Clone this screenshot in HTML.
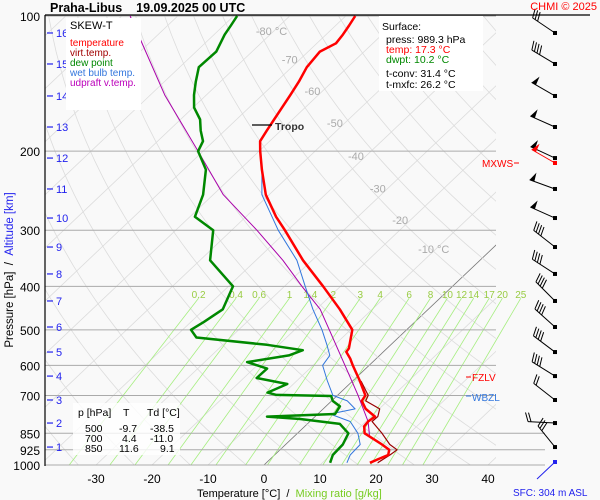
<!DOCTYPE html>
<html><head><meta charset="utf-8">
<style>
html,body{margin:0;padding:0;background:#f9f9f9;}
svg{display:block;font-family:"Liberation Sans",sans-serif;}
</style></head>
<body>
<svg id="chart" width="600" height="500" viewBox="0 0 600 500" xmlns="http://www.w3.org/2000/svg">
<defs><clipPath id="plotclip"><rect x="45" y="15" width="451" height="450"/></clipPath></defs>
<rect x="0" y="0" width="600" height="500" fill="#f9f9f9"/>
<g id="grid" clip-path="url(#plotclip)"></g>
<g id="mix"></g>
<g id="plevels"></g>
<g id="series" clip-path="url(#plotclip)"></g>
<g id="axes"></g>
<g id="barbs"></g>
<g id="texts">
 <text x="50" y="12" font-size="12.5" font-weight="bold">Praha-Libus&#160;&#160;&#160;&#160;19.09.2025 00 UTC</text>
 <text x="597" y="10" font-size="11" fill="#f00" text-anchor="end">CHMI © 2025</text>
 <rect x="66" y="18" width="75" height="92" fill="#fff"/>
 <text x="70" y="29" font-size="11">SKEW-T</text>
 <text x="70" y="46" font-size="10" fill="#f00">temperature</text>
 <text x="70" y="56" font-size="10" fill="#a00000">virt.temp.</text>
 <text x="70" y="66" font-size="10" fill="#080">dew point</text>
 <text x="70" y="76" font-size="10" fill="#37d">wet bulb temp.</text>
 <text x="70" y="86" font-size="10" fill="#b0b">udpraft v.temp.</text>
 <rect x="379" y="16" width="104" height="75" fill="#fff"/>
 <text x="382" y="30" font-size="10.5">Surface:</text>
 <text x="386" y="43" font-size="10.5">press: 989.3 hPa</text>
 <text x="386" y="53" font-size="10.5" fill="#f00">temp: 17.3 °C</text>
 <text x="386" y="63" font-size="10.5" fill="#080">dwpt: 10.2 °C</text>
 <text x="386" y="77" font-size="10.5">t-conv: 31.4 °C</text>
 <text x="386" y="88" font-size="10.5">t-mxfc: 26.2 °C</text>
 <rect x="73" y="403" width="107" height="52" fill="#fff" opacity="0.8"/>
 <g font-size="10.5">
  <text x="78" y="416">p [hPa]</text><text x="123" y="416">T</text><text x="147" y="416">Td [°C]</text>
  <text x="85" y="432">500</text><text x="119" y="432">-9.7</text><text x="150" y="432">-38.5</text>
  <text x="85" y="442">700</text><text x="122" y="442">4.4</text><text x="150" y="442">-11.0</text>
  <text x="85" y="452">850</text><text x="119" y="452">11.6</text><text x="160" y="452">9.1</text>
 </g>
 <line x1="252" y1="125" x2="272" y2="125" stroke="#000" stroke-width="1.2"/>
 <text x="275" y="130" font-size="10.5" font-weight="bold" fill="#333">Tropo</text>
 <text x="482" y="167" font-size="10" fill="#f00">MXWS</text>
 <line x1="514" y1="163" x2="519" y2="163" stroke="#f00"/>
 <line x1="466" y1="377" x2="471" y2="377" stroke="#f00"/>
 <text x="472" y="381" font-size="10" fill="#f00">FZLV</text>
 <line x1="466" y1="396" x2="471" y2="396" stroke="#37d"/>
 <text x="472" y="401" font-size="10" fill="#37d">WBZL</text>
 <text x="197" y="497" font-size="11">Temperature [°C]&#160;&#160;/&#160;&#160;<tspan fill="#7c2">Mixing ratio [g/kg]</tspan></text>
 <text x="513" y="496" font-size="10" fill="#22e">SFC: 304 m ASL</text>
 <text transform="translate(13,270) rotate(-90)" font-size="11.5" text-anchor="middle">Pressure [hPa]&#160;&#160;/&#160;&#160;<tspan fill="#22e">Altitude [km]</tspan></text>
</g>
</svg>
<script>
// ---- data ----
const tempP = [100,105,110,115,120,130,140,150,160,170,180,190,200,220,250,280,300,350,400,450,500,550,560,580,600,650,700,720,750,780,800,820,850,900,925,950,970,989];
const tempT = [-68.3,-67.6,-67.0,-66.6,-67.9,-67.3,-66.0,-65.0,-64.1,-63.3,-62.5,-61.7,-59.8,-56.0,-50.6,-44.6,-40.5,-31.6,-23.1,-15.8,-9.7,-6.8,-6.6,-4.6,-2.9,1.3,5.0,5.4,7.6,10.7,10.4,10.6,12.0,17.2,19.5,20.3,19.3,18.5];
const dewP = [100,105,110,120,130,140,150,160,170,180,190,200,220,250,280,300,350,400,450,480,500,520,540,555,570,590,610,640,660,690,698,702,720,740,770,780,790,810,850,900,950,989];
const dewT = [-89.4,-88.7,-88.1,-86.4,-86.6,-84.4,-82.2,-79.8,-76.5,-74.3,-71.9,-70.9,-66.0,-61.8,-59.1,-53.3,-48.2,-39.2,-36.7,-37.7,-38.5,-36.1,-22.1,-14.7,-16.2,-22.4,-17.6,-17.7,-11.1,-13.0,-11.0,-1.0,0.2,2.5,3.1,-8.6,-2.2,5.8,9.1,10.2,10.4,11.4];
const wetP = [220,250,300,350,400,450,500,540,570,600,650,700,720,750,770,800,850,900,950,989];
const wetT = [-56.0,-51.3,-41.7,-32.7,-26.3,-20.6,-15.1,-11.4,-8.9,-8.3,-4.5,-0.8,2.8,5.7,2.2,7.2,10.8,13.3,13.5,14.4];
const virtP = [650,700,720,750,780,800,850,900,925,950,970,989];
const virtT = [1.5,5.5,6.1,10.1,11.2,11.1,15.1,18.6,20.9,20.6,20.2,19.9];
const updP = [100,150,200,250,300,350,400,450,500,600,700,800,860];
const updT = [-108.5,-87.4,-70.9,-58.2,-45.5,-35.2,-26.9,-19.3,-13.8,-4.3,3.7,10.4,13.3];
const pLevels = [100,200,300,400,500,600,700,850,925,1000];
const xTicks = [-30,-20,-10,0,10,20,30,40];
const isoLabels = [-80,-70,-60,-50,-40,-30,-20,-10];
const mixRatios = [0.2,0.4,0.6,1,1.4,2,3,4,6,8,10,12,14,17,20,25];
const mixLabels = ["0.2","0.4","0.6","1","1.4","2","3","4","6","8","10","12","14","17","20","25"];
const altKm = [16,15,14,13,12,11,10,9,8,7,6,5,4,3,2,1];
const altP = [109.1,127.9,150.7,176.7,207.2,242.8,281.8,327,375.4,431.2,492.8,560.3,633.8,716.5,806.4,912.1];
const windDir = [304,301,300,294,295,290,294,308,303,315,312,307,302,308,273,321];
const windSpd = [30,40,50,50,50,50,50,40,40,40,40,40,40,20,20,30];
const mxwsDir = 300, mxwsSpd = 50;
// ---- axes ----
const NS='http://www.w3.org/2000/svg';
function yOf(p){return 16+449*Math.log10(p/100);}
function xOf(T,p){return 264+5.6*T+(465-yOf(p))*1.055;}
function mk(tag,attrs,parent){const e=document.createElementNS(NS,tag);for(const k in attrs)e.setAttribute(k,attrs[k]);parent.appendChild(e);return e;}
const grid=document.getElementById('grid'),mix=document.getElementById('mix'),plv=document.getElementById('plevels'),ser=document.getElementById('series'),axes=document.getElementById('axes'),barbs=document.getElementById('barbs');
for(let T=-160;T<=50;T+=10){
  const l=mk('line',{x1:xOf(T,1050),y1:yOf(1050),x2:xOf(T,100),y2:yOf(100),stroke:T===0?'#777':'#dcdcdc','stroke-width':0.8},grid);
  
  
}
for(let th=230;th<=520;th+=10){
  let d='';
  for(let p=1050;p>=100;p-=10){const T=th*Math.pow(p/1000,0.286)-273.15;d+=(d?'L':'M')+xOf(T,p).toFixed(1)+','+yOf(p).toFixed(1);}
  const a=mk('path',{d:d,fill:'none',stroke:'#dcdcdc','stroke-width':0.8},grid);
  
  
}
const isoLabelP=[108,125,147,173,205,242,285,330];
isoLabels.forEach((T,i)=>{
  const p=isoLabelP[i];
  const t=mk('text',{x:xOf(T,p)-18,y:yOf(p)+4,'font-size':11,fill:'#aaa'},axes);
  t.textContent=(T===-80||T===-10)?T+' °C':String(T);
  
  
});
function tdFromW(w,p){const e=w*p/(622+w);const L=Math.log(e/6.112);return 243.5*L/(17.67-L);}
mixRatios.forEach((w,i)=>{
  const x1=xOf(tdFromW(w,1000),1000),x2=xOf(tdFromW(w,425),425);
  const l=mk('line',{x1:x1,y1:yOf(1000),x2:x2,y2:yOf(425),stroke:'#a6ee80','stroke-width':0.8},mix);
  
  
  const t=mk('text',{x:x2,y:298,'font-size':10,fill:'#9c4','text-anchor':'middle'},mix);
  t.textContent=mixLabels[i];
  
  
});
pLevels.forEach(p=>{
  const y=yOf(p);
  const l=mk('line',{x1:45,y1:y,x2:p>=850?545:496,y2:y,stroke:'#aaa','stroke-width':1},plv);
  
  
  const t=mk('text',{x:40,y:y+5,'font-size':12,'text-anchor':'end'},axes);
  t.textContent=p;
  
  
});
mk('line',{x1:45,y1:15,x2:590,y2:15,stroke:'#000','stroke-width':1.2},axes);
mk('line',{x1:45,y1:15,x2:45,y2:466,stroke:'#000','stroke-width':1.2},axes);
altKm.forEach((k,i)=>{
  const y=yOf(altP[i]);
  const l=mk('line',{x1:47,y1:y,x2:53,y2:y,stroke:'#22e','stroke-width':1.2},axes);
  
  
  const t=mk('text',{x:56,y:y+4,'font-size':11,fill:'#22e'},axes);
  t.textContent=k;
  
  
});
xTicks.forEach(T=>{
  const t=mk('text',{x:264+5.6*T,y:483,'font-size':12,'text-anchor':'middle'},axes);
  t.textContent=T;
  
  
});
function series(P,T,color,w,name){
  let d='';P.forEach((p,i)=>{d+=(i?'L':'M')+xOf(T[i],p).toFixed(1)+','+yOf(p).toFixed(1);});
  const e=mk('path',{d:d,fill:'none',stroke:color,'stroke-width':w,'stroke-linejoin':'round'},ser);
  
  
}
series(updP,updT,'#a0a',1,'updraft-line');
series(wetP,wetT,'#37d',1,'wet-bulb-line');
series(virtP,virtT,'#900',1.2,'virtual-temperature-line');
series(dewP,dewT,'#080',2.5,'dew-point-line');
series(tempP,tempT,'#f00',2.5,'temperature-line');
function barb(y,dir,spd,color){
  const g=mk('g',{},barbs);
  
  
  const a=dir*Math.PI/180, ux=Math.sin(a), uy=-Math.cos(a), L=27;
  const x0=555,ex=x0+ux*L,ey=y+uy*L;
  mk('line',{x1:x0,y1:y,x2:ex,y2:ey,stroke:color,'stroke-width':1},g);
  mk('rect',{x:x0-2,y:y-2,width:4,height:4,fill:color},g);
  const px=-uy,py=ux;
  let s=spd,pos=0;
  while(s>=50){const bx=ex-ux*pos,by=ey-uy*pos;mk('polygon',{points:`${bx},${by} ${bx-ux*4+px*9},${by-uy*4+py*9} ${bx-ux*5},${by-uy*5}`,fill:color},g);s-=50;pos+=6;}
  while(s>=10){const bx=ex-ux*pos,by=ey-uy*pos;mk('line',{x1:bx,y1:by,x2:bx+ux*3+px*9,y2:by+uy*3+py*9,stroke:color,'stroke-width':1},g);s-=10;pos+=3;}
  if(s>=5){const bx=ex-ux*pos,by=ey-uy*pos;mk('line',{x1:bx,y1:by,x2:bx+ux*1.5+px*5,y2:by+uy*1.5+py*5,stroke:color,'stroke-width':1},g);}
}
altKm.forEach((k,i)=>barb(yOf(altP[i]),windDir[i],windSpd[i],'#000'));
barb(163,mxwsDir,mxwsSpd,'#f00');
const sfc=mk('line',{x1:555,y1:462,x2:537,y2:479,stroke:'#22e','stroke-width':1},barbs);


mk('rect',{x:553,y:460,width:4,height:4,fill:'#22e'},barbs);
</script>
</body></html>
